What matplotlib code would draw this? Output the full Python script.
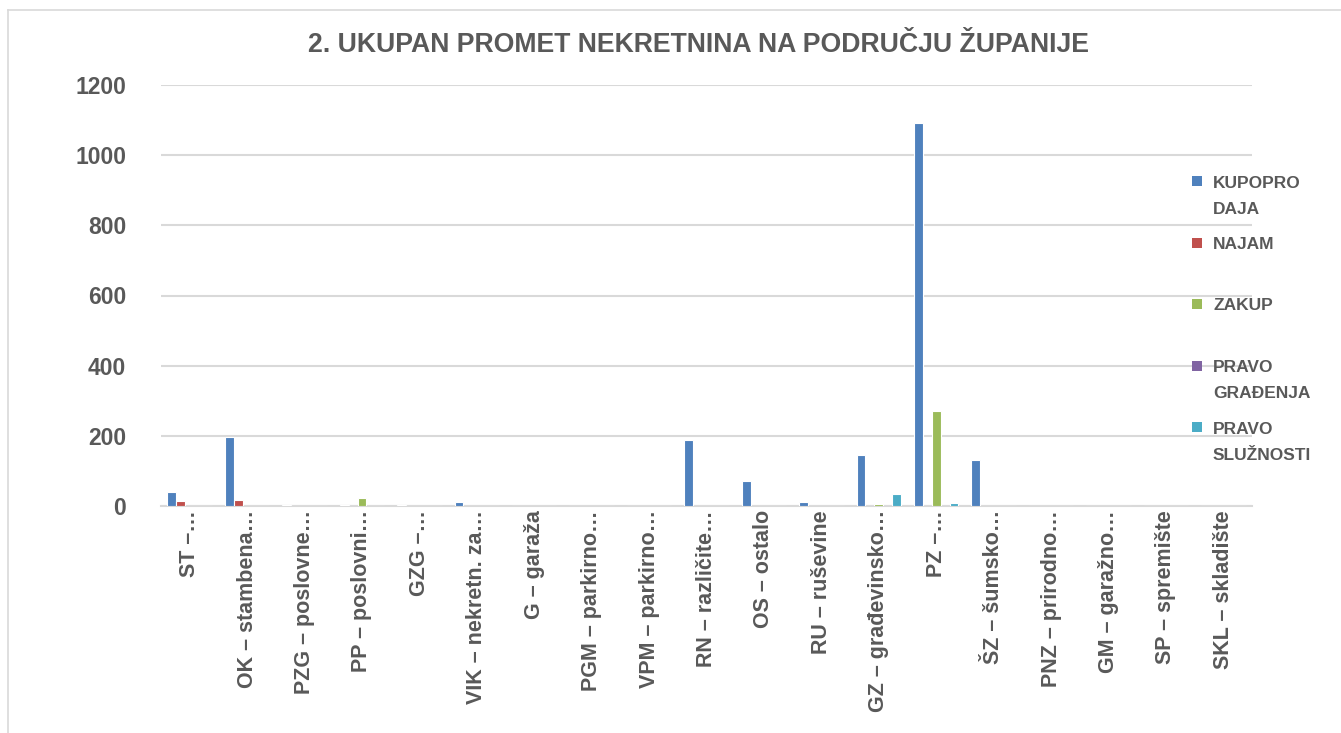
import matplotlib
matplotlib.use("Agg")
import matplotlib.pyplot as plt
import numpy as np
from matplotlib.patches import Rectangle
from matplotlib.lines import Line2D

categories = ["ST –…", "OK – stambena…", "PZG – poslovne…", "PP – poslovni…", "GZG –…",
              "VIK – nekretn. za…", "G – garaža", "PGM – parkirno…", "VPM – parkirno…",
              "RN – različite…", "OS – ostalo", "RU – ruševine", "GZ – građevinsko…",
              "PZ –…", "ŠZ – šumsko…", "PNZ – prirodno…", "GM – garažno…",
              "SP – spremište", "SKL – skladište"]

kupoprodaja = [40, 197, 2, 3, 2, 10, 0, 0, 0, 189, 71, 11, 146, 1093, 131, 0, 0, 0, 0]
najam       = [14, 17, 0, 0, 0, 0, 0, 0, 0, 0, 0, 0, 0, 0, 0, 0, 0, 0, 0]
zakup       = [0, 0, 0, 23, 0, 0, 0, 0, 0, 0, 0, 0, 7, 271, 0, 0, 0, 0, 0]
pravo_gradenja = [0, 0, 0, 0, 0, 0, 0, 0, 0, 0, 0, 0, 0, 0, 0, 0, 0, 0, 0]
pravo_sluznosti = [0, 0, 0, 0, 0, 0, 0, 0, 0, 0, 0, 0, 34, 8, 0, 0, 0, 0, 0]

series_names = ["KUPOPRO\nDAJA", "NAJAM", "ZAKUP", "PRAVO\nGRAĐENJA", "PRAVO\nSLUŽNOSTI"]
series_values = [kupoprodaja, najam, zakup, pravo_gradenja, pravo_sluznosti]
colors = ["#4F81BD", "#C0504D", "#9BBB59", "#8064A2", "#4BACC6"]
yticks = [0, 200, 400, 600, 800, 1000, 1200]

TXT = "#595959"
GRID = "#D9D9D9"
FONT = "Liberation Sans"

W, H = 1341, 733
fig = plt.figure(figsize=(W / 100, H / 100), dpi=100)
fig.patch.set_facecolor("white")

# chart border (left and top visible)
fig.add_artist(Line2D([8 / W, 8 / W], [0, 1 - 10 / H], color=GRID, lw=1.2))
fig.add_artist(Line2D([8 / W, 1], [1 - 10 / H, 1 - 10 / H], color=GRID, lw=1.2))

left, right = 161 / W, 1252 / W
bottom, top = 1 - 506 / H, 1 - 85 / H
ax = fig.add_axes([left, bottom, right - left, top - bottom])

x = np.arange(len(categories))
w = 0.155
for i, (vals, c) in enumerate(zip(series_values, colors)):
    ax.bar(x + (i - 2) * w, vals, width=w, color=c, edgecolor="white", linewidth=0.8, zorder=3)

ax.set_xlim(-0.5, len(categories) - 0.5)
ax.set_ylim(0, 1200)
ax.set_yticks(yticks)
ax.set_yticklabels([str(t) for t in yticks], fontsize=16.5, fontweight="bold",
                   color=TXT, fontfamily=FONT)
ax.yaxis.grid(True, color=GRID, linewidth=1.5, zorder=0)
ax.set_axisbelow(True)
ax.tick_params(axis="y", length=0, pad=25)
ax.tick_params(axis="x", length=0, pad=3)
ax.set_xticks(x)
ax.set_xticklabels(categories, rotation=90, fontsize=15.5, fontweight="bold",
                   color=TXT, fontfamily=FONT, ha="center", va="top")
for s in ["left", "right", "top"]:
    ax.spines[s].set_visible(False)
ax.spines["bottom"].set_color(GRID)
ax.spines["bottom"].set_linewidth(1.5)

fig.text(698 / W, 1 - 45 / H, "2. UKUPAN PROMET NEKRETNINA NA PODRUČJU ŽUPANIJE",
         ha="center", va="center", fontsize=19.2, fontweight="bold", color=TXT, fontfamily=FONT)

# legend
for i, (name, c) in enumerate(zip(series_names, colors)):
    ym = 181 + 61.5 * i
    fig.add_artist(Rectangle(((1192) / W, 1 - (ym + 5) / H), 10 / W, 10 / H,
                             transform=fig.transFigure, facecolor=c, edgecolor="none"))
    for j, line in enumerate(name.split("\n")):
        fig.text(1213 / W, 1 - (ym + 6.5 + 26 * j) / H, line, ha="left", va="baseline",
                 fontsize=12.5, fontweight="bold", color=TXT, fontfamily=FONT)

fig.savefig("out.png", dpi=100, facecolor="white")
